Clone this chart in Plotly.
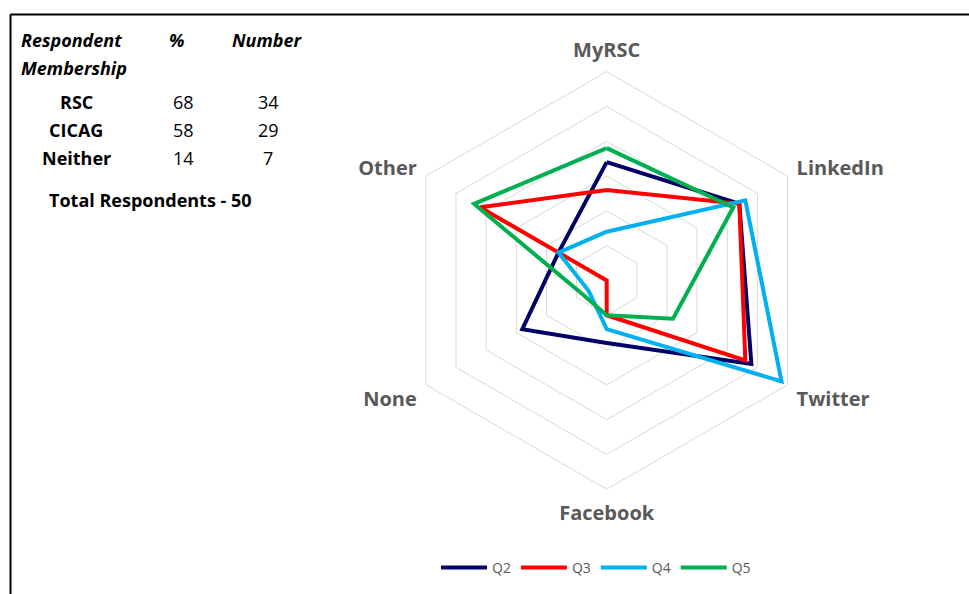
import plotly.graph_objects as go

W, H = 969, 594

categories = ["MyRSC", "LinkedIn", "Twitter", "Facebook", "None", "Other"]
q2 = [17, 22, 24, 9, 14, 8]
q3 = [13, 22, 23, 5, 0, 21]
q4 = [7, 23, 29, 7, 3, 8]
q5 = [19, 21, 11, 5, 4, 22]
series_names = ["Q2", "Q3", "Q4", "Q5"]
series_values = [q2, q3, q4, q5]
series_colors = ["#000066", "#FF0000", "#00B0F0", "#00B050"]

membership = ["RSC", "CICAG", "Neither"]
membership_pct = [68, 58, 14]
membership_num = [34, 29, 7]
total_respondents = 50

fig = go.Figure()
for name, vals, col in zip(series_names, series_values, series_colors):
    fig.add_trace(go.Scatterpolar(
        r=vals + vals[:1],
        theta=categories + categories[:1],
        mode="lines",
        name=name,
        line=dict(color=col, width=4),
    ))

cx, cy, rad = 606.7, 280.4, 208.8
dom_x = [(cx - rad) / W, (cx + rad) / W]
dom_y = [1 - (cy + rad) / H, 1 - (cy - rad) / H]

fig.update_layout(
    width=W, height=H,
    margin=dict(l=0, r=0, t=0, b=0),
    paper_bgcolor="white",
    plot_bgcolor="white",
    font=dict(family="Open Sans", color="#595959"),
    polar=dict(
        domain=dict(x=dom_x, y=dom_y),
        gridshape="linear",
        bgcolor="white",
        radialaxis=dict(range=[0, 30], dtick=5, showticklabels=False, ticks="",
                        showline=False, gridcolor="#d9d9d9", gridwidth=1),
        angularaxis=dict(direction="clockwise", rotation=90, showgrid=False,
                         showline=True, linecolor="#d9d9d9", linewidth=1,
                         ticks="outside", ticklen=6, tickcolor="rgba(0,0,0,0)",
                         tickfont=dict(family="Open Sans", size=20, color="#595959", weight="bold")),
    ),
    showlegend=True,
    legend=dict(orientation="h", x=596 / W, xanchor="center", y=(H - 568) / H, yanchor="middle",
                font=dict(family="Open Sans", size=14, color="#595959"),
                itemwidth=46, tracegroupgap=0),
)

# border (top and left edges)
fig.add_shape(type="line", xref="paper", yref="paper", x0=10.5 / W, x1=1, y0=1 - 14.5 / H, y1=1 - 14.5 / H,
              line=dict(color="black", width=2))
fig.add_shape(type="line", xref="paper", yref="paper", x0=10.5 / W, x1=10.5 / W, y0=0, y1=1 - 14.5 / H,
              line=dict(color="black", width=2))

def ann(text, x, y, size=18, bold=False, italic=False, xanchor="center"):
    t = text
    if bold:
        t = "<b>" + t + "</b>"
    if italic:
        t = "<i>" + t + "</i>"
    fig.add_annotation(text=t, x=x / W, y=1 - y / H, xref="paper", yref="paper",
                       showarrow=False, xanchor=xanchor, yanchor="middle",
                       font=dict(family="Open Sans", size=size, color="black"))

ann("Respondent", 19, 40, bold=True, italic=True, xanchor="left")
ann("Membership", 19, 68, bold=True, italic=True, xanchor="left")
ann("%", 176, 40, bold=True, italic=True)
ann("Number", 267, 40, bold=True, italic=True)
for i, (m, p, n) in enumerate(zip(membership, membership_pct, membership_num)):
    yy = 102 + 28 * i
    ann(m, 76, yy, bold=True)
    ann(str(p), 183, yy)
    ann(str(n), 268, yy)
ann("Total Respondents - " + str(total_respondents), 47, 200, bold=True, xanchor="left")

fig.write_html("out.html", config={"displayModeBar": False},
               post_script="document.body.style.margin='0px';document.body.style.overflow='hidden';")
